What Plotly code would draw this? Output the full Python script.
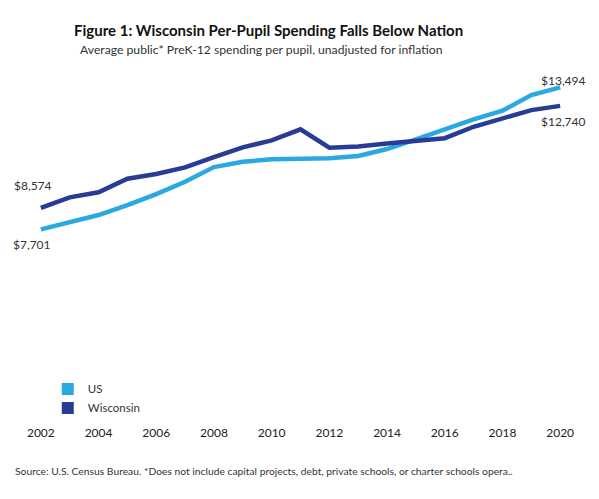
import plotly.graph_objects as go

years = list(range(2002, 2021))
us = [7701, 8000, 8284, 8692, 9141, 9643, 10243, 10459, 10557, 10581, 10598,
      10692, 10977, 11373, 11781, 12189, 12540, 13180, 13494]
wisconsin = [8574, 9007, 9211, 9765, 9957, 10231, 10651, 11047, 11332, 11781,
             11030, 11080, 11200, 11330, 11420, 11887, 12230, 12568, 12740]
tick_years = list(range(2002, 2021, 2))

US_COLOR = "#2AA8E0"
WI_COLOR = "#283C96"
FONT = "Lato"

fig = go.Figure()
fig.add_trace(go.Scatter(x=years, y=us, mode="lines", name="US",
                         line=dict(color=US_COLOR, width=4.5), showlegend=False))
fig.add_trace(go.Scatter(x=years, y=wisconsin, mode="lines", name="Wisconsin",
                         line=dict(color=WI_COLOR, width=4.5), showlegend=False))
# legend entries with square swatches
fig.add_trace(go.Scatter(x=[None], y=[None], mode="markers", name="US",
                         marker=dict(symbol="square", size=13, color=US_COLOR)))
fig.add_trace(go.Scatter(x=[None], y=[None], mode="markers", name="Wisconsin",
                         marker=dict(symbol="square", size=13, color=WI_COLOR)))

def money(v):
    return "${:,}".format(v)

ann_font = dict(family=FONT, size=12, color="#333333")
annotations = [
    dict(x=years[0], y=wisconsin[0], text=money(wisconsin[0]), xshift=-8, yshift=22),
    dict(x=years[0], y=us[0], text=money(us[0]), xshift=-9, yshift=-15),
    dict(x=years[-1], y=us[-1], text=money(us[-1]), xshift=3, yshift=7),
    dict(x=years[-1], y=wisconsin[-1], text=money(wisconsin[-1]), xshift=3, yshift=-16),
]
for a in annotations:
    a.update(xref="x", yref="y", showarrow=False, font=ann_font)

annotations += [
    dict(text="<b>Figure 1: Wisconsin Per-Pupil Spending Falls Below Nation</b>",
         xref="paper", yref="paper", x=0.4445, y=1.1312, xanchor="center", yanchor="middle",
         showarrow=False, font=dict(family=FONT, size=15, color="#111111")),
    dict(text="Average public* PreK-12 spending per pupil, unadjusted for inflation",
         xref="paper", yref="paper", x=0.4332, y=1.0729, xanchor="center", yanchor="middle",
         showarrow=False, font=dict(family=FONT, size=12.2, color="#333333")),
    dict(text="Source: U.S. Census Bureau. *Does not include capital projects, debt, private schools, or charter schools opera..",
         xref="paper", yref="paper", x=0.0014, y=-0.1545, xanchor="left", yanchor="middle",
         showarrow=False, font=dict(family=FONT, size=10.3, color="#333333")),
]

fig.update_layout(
    width=591, height=491,
    margin=dict(l=4, r=10, t=67, b=81),
    paper_bgcolor="white", plot_bgcolor="white",
    xaxis=dict(range=[2001, 2021], tickvals=tick_years, showgrid=False,
               zeroline=False, showline=False, ticks="", ticklabelstandoff=6,
               tickfont=dict(family=FONT, size=12, color="#222222")),
    yaxis=dict(range=[0, 14000], visible=False, showgrid=False),
    legend=dict(x=0.062, y=-0.013, xanchor="left", yanchor="bottom",
                font=dict(family=FONT, size=11.5, color="#333333"),
                bgcolor="rgba(0,0,0,0)", tracegroupgap=0, itemsizing="constant"),
    annotations=annotations,
    font=dict(family=FONT),
)
fig.write_html("out.html")
